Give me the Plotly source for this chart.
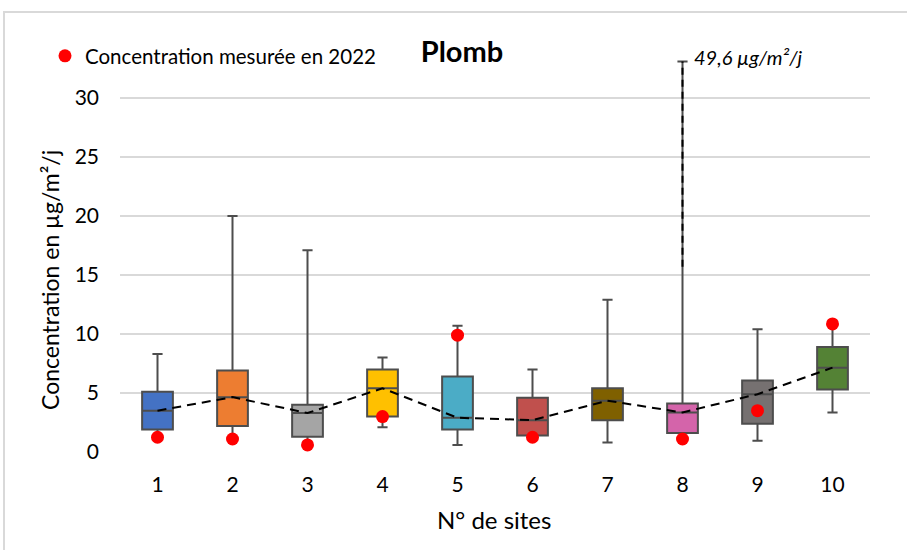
import plotly.graph_objects as go

sites = ["1", "2", "3", "4", "5", "6", "7", "8", "9", "10"]
q1 = [1.9, 2.2, 1.3, 3.0, 1.9, 1.4, 2.7, 1.6, 2.4, 5.3]
median = [3.5, 4.65, 3.3, 5.4, 2.9, 2.7, 4.35, 3.35, 4.9, 7.15]
q3 = [5.1, 6.9, 4.0, 7.0, 6.4, 4.6, 5.4, 4.1, 6.05, 8.9]
lower = [1.1, 1.0, 0.7, 2.1, 0.6, 1.1, 0.8, 1.1, 0.95, 3.35]
upper = [8.3, 20.0, 17.1, 8.0, 10.7, 7.0, 12.9, 33.1, 10.4, 11.0]
measured_2022 = [1.25, 1.1, 0.6, 3.0, 9.9, 1.25, None, 1.1, 3.5, 10.85]
colors = ["#4472C4", "#ED7D31", "#A5A5A5", "#FFC000", "#4BACC6",
          "#C0504D", "#7F6000", "#D464AA", "#767171", "#548235"]
break_site = "8"
break_from = 15.7
break_to = 33.1
max_label = "49,6 µg/m²/j"

FONT = "Lato"

fig = go.Figure()

for i, s in enumerate(sites):
    fig.add_trace(go.Box(
        x=[s], q1=[q1[i]], median=[median[i]], q3=[q3[i]],
        lowerfence=[lower[i]], upperfence=[upper[i]],
        fillcolor=colors[i], line=dict(color="#4D4D4D", width=2),
        width=0.41, whiskerwidth=0.33, showlegend=False, hoverinfo="skip",
    ))

# axis-break dashed segment of site 8 whisker
fig.add_trace(go.Scatter(
    x=[break_site, break_site], y=[break_from, break_to], mode="lines",
    line=dict(color="black", width=2, dash="7px,5px"), showlegend=False,
    hoverinfo="skip",
))

# median connecting line
fig.add_trace(go.Scatter(
    x=sites, y=median, mode="lines",
    line=dict(color="black", width=2, dash="9px,6px"), showlegend=False,
    hoverinfo="skip",
))

# measured 2022
fig.add_trace(go.Scatter(
    x=sites, y=measured_2022, mode="markers",
    marker=dict(color="#FF0000", size=13),
    name="Concentration mesurée en 2022", showlegend=True,
))

L, R, T, B = 120, 37, 39, 98
W, H = 907, 550
pw, ph = W - L - R, H - T - B


def px(x):
    return (x - L) / pw


def py(y):
    return (H - B - y) / ph


fig.update_layout(
    width=W, height=H,
    margin=dict(l=L, r=R, t=T, b=B),
    paper_bgcolor="white", plot_bgcolor="white",
    font=dict(family=FONT, color="#000000", size=21),
    boxmode="overlay",
    title=dict(text="<b>Plomb</b>", x=462 / W, y=1 - 52 / H,
               xanchor="center", yanchor="middle",
               font=dict(family=FONT, size=29, color="#000000")),
    legend=dict(x=px(45), y=py(56), xanchor="left", yanchor="middle",
                bgcolor="rgba(0,0,0,0)", font=dict(size=20.5, family=FONT),
                itemwidth=30),
    xaxis=dict(type="category", categoryorder="array", categoryarray=sites,
               range=[-0.5, 9.5],
               showgrid=False, showline=False, zeroline=False,
               ticks="", ticklabelstandoff=18,
               tickfont=dict(size=21, family=FONT)),
    yaxis=dict(range=[0, 35], tickvals=[0, 5, 10, 15, 20, 25, 30],
               showgrid=True, gridcolor="#D9D9D9", gridwidth=1.5,
               zeroline=False, showline=False, ticks="",
               ticklabelstandoff=20, tickfont=dict(size=21, family=FONT)),
    showlegend=True,
)

fig.add_annotation(text="Concentration en µg/m²/j", xref="paper", yref="paper",
                   x=px(50), y=py(280), textangle=-90, showarrow=False,
                   xanchor="center", yanchor="middle",
                   font=dict(size=23, family=FONT))
fig.add_annotation(text="N° de sites", xref="paper", yref="paper",
                   x=px(494), y=py(519), showarrow=False,
                   xanchor="center", yanchor="middle",
                   font=dict(size=24, family=FONT))
fig.add_annotation(text="<i>" + max_label + "</i>", xref="paper", yref="paper",
                   x=px(692), y=py(57), showarrow=False,
                   xanchor="left", yanchor="middle",
                   font=dict(size=20, family=FONT))

fig.add_shape(type="rect", xref="paper", yref="paper",
              x0=px(4), x1=px(912), y0=py(560), y1=py(12),
              line=dict(color="#D9D9D9", width=2), layer="below")

fig.write_html("out.html")
